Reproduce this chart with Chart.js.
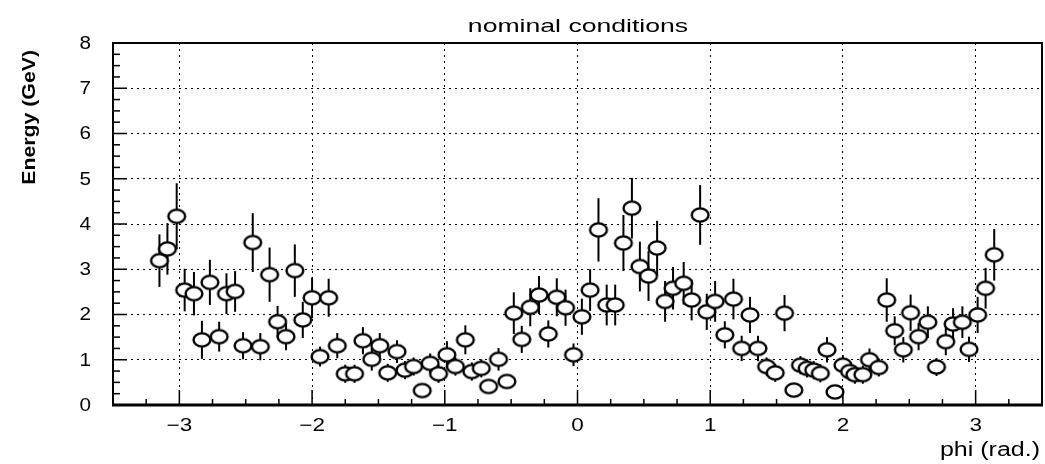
<!DOCTYPE html>
<html>
<head>
<meta charset="utf-8">
<title>nominal conditions</title>
<script src="https://cdn.jsdelivr.net/npm/chart.js@4/dist/chart.umd.min.js"></script>
<style>
  html, body { margin: 0; padding: 0; background: #fff; }
  canvas { display: block; }
</style>
</head>
<body>
<canvas id="energy-chart" width="1045" height="464"></canvas>
<script>
// values
const phi = [
  -3.15, -3.09, -3.02, -2.96, -2.89, -2.83, -2.77, -2.70, -2.645, -2.58,
  -2.52, -2.447, -2.39, -2.32, -2.26, -2.196, -2.13, -2.07, -2.0, -1.94,
  -1.875, -1.81, -1.75, -1.68, -1.617, -1.55, -1.49, -1.43, -1.36, -1.30,
  -1.235, -1.17, -1.11, -1.047, -0.984, -0.92, -0.845, -0.796, -0.725, -0.67,
  -0.595, -0.532, -0.48, -0.42, -0.356, -0.29, -0.22, -0.156, -0.09, -0.03,
  0.033, 0.095, 0.158, 0.22, 0.284, 0.346, 0.41, 0.47, 0.535, 0.60,
  0.66, 0.72, 0.80, 0.86, 0.924, 0.974, 1.037, 1.11, 1.175, 1.237,
  1.30, 1.36, 1.425, 1.49, 1.56, 1.63, 1.68, 1.73, 1.78, 1.83,
  1.88, 1.94, 2.0, 2.05, 2.09, 2.15, 2.20, 2.27, 2.33, 2.39,
  2.455, 2.51, 2.57, 2.64, 2.705, 2.775, 2.83, 2.90, 2.95, 3.015,
  3.075, 3.14
];
const energy = [
  3.19, 3.45, 4.17, 2.54, 2.46, 1.44, 2.71, 1.51, 2.46, 2.51,
  1.31, 3.59, 1.29, 2.88, 1.84, 1.51, 2.97, 1.88, 2.37, 1.07,
  2.37, 1.31, 0.69, 0.69, 1.42, 1.01, 1.31, 0.71, 1.18, 0.77,
  0.85, 0.32, 0.92, 0.69, 1.11, 0.85, 1.44, 0.74, 0.81, 0.41,
  1.01, 0.52, 2.03, 1.45, 2.16, 2.43, 1.57, 2.38, 2.15, 1.11,
  1.95, 2.54, 3.87, 2.21, 2.21, 3.58, 4.35, 3.06, 2.85, 3.47,
  2.29, 2.58, 2.69, 2.32, 4.20, 2.06, 2.29, 1.55, 2.34, 1.25,
  1.99, 1.25, 0.85, 0.71, 2.03, 0.33, 0.88, 0.81, 0.77, 0.70,
  1.22, 0.29, 0.88, 0.74, 0.67, 0.67, 1.00, 0.83, 2.32, 1.64,
  1.22, 2.04, 1.51, 1.83, 0.84, 1.40, 1.79, 1.83, 1.23, 1.99,
  2.58, 3.32
];
const energyErr = [
  0.58, 0.57, 0.73, 0.47, 0.48, 0.42, 0.50, 0.33, 0.45, 0.45,
  0.30, 0.65, 0.30, 0.60, 0.35, 0.30, 0.58, 0.40, 0.45, 0.22,
  0.42, 0.28, 0.20, 0.20, 0.30, 0.25, 0.28, 0.20, 0.25, 0.20,
  0.20, 0.12, 0.22, 0.20, 0.30, 0.20, 0.32, 0.20, 0.20, 0.12,
  0.25, 0.15, 0.46, 0.30, 0.42, 0.42, 0.30, 0.42, 0.40, 0.25,
  0.40, 0.46, 0.70, 0.45, 0.45, 0.62, 0.67, 0.55, 0.55, 0.60,
  0.45, 0.47, 0.47, 0.45, 0.66, 0.40, 0.45, 0.30, 0.45, 0.28,
  0.40, 0.28, 0.20, 0.20, 0.40, 0.12, 0.20, 0.20, 0.20, 0.20,
  0.28, 0.12, 0.22, 0.20, 0.20, 0.20, 0.25, 0.20, 0.48, 0.32,
  0.28, 0.40, 0.30, 0.35, 0.20, 0.30, 0.35, 0.35, 0.28, 0.40,
  0.45, 0.57
];
const xTicks = [-3, -2, -1, 0, 1, 2, 3];
const xTickLabels = ["\u22123", "\u22122", "\u22121", "0", "1", "2", "3"];
const yTicks = [0, 1, 2, 3, 4, 5, 6, 7, 8];
const yTickLabels = ["0", "1", "2", "3", "4", "5", "6", "7", "8"];

const FONT = "'Liberation Sans', Arial, sans-serif";

// open ellipse marker
function makeMarker() {
    const c = document.createElement("canvas");
    c.width = 22;
    c.height = 18;
    const g = c.getContext("2d");
    g.beginPath();
    g.ellipse(11, 9, 8.4, 6.6, 0, 0, Math.PI * 2);
    g.fillStyle = "#fff";
    g.fill();
    g.lineWidth = 2.4;
    g.strokeStyle = "#000";
    g.stroke();
    return c;
}

function wideText(ctx, txt, x, y, align, sx) {
    ctx.save();
    ctx.translate(x, y);
    ctx.scale(sx, 1);
    ctx.textAlign = align;
    ctx.fillText(txt, 0, 0);
    ctx.restore();
}

const errorBars = {
    id: "errorBars",
    beforeDatasetsDraw(chart) {
        const ctx = chart.ctx;
        const xs = chart.scales.x, ys = chart.scales.y;
        ctx.save();
        ctx.strokeStyle = "#000";
        ctx.lineWidth = 2;
        for (let i = 0; i < phi.length; i++) {
            const px = xs.getPixelForValue(phi[i]);
            ctx.beginPath();
            ctx.moveTo(px, ys.getPixelForValue(energy[i] - energyErr[i]));
            ctx.lineTo(px, ys.getPixelForValue(energy[i] + energyErr[i]));
            ctx.stroke();
        }
        ctx.restore();
    }
};

const frame = {
    id: "frame",
    afterDraw(chart) {
        const ctx = chart.ctx;
        const a = chart.chartArea;
        const xs = chart.scales.x, ys = chart.scales.y;
        ctx.save();
        ctx.strokeStyle = "#000";

        // inward ticks
        ctx.lineWidth = 1.5;
        for (let v = -3.5; v <= 3.5; v += 0.25) {
            const px = xs.getPixelForValue(v);
            const len = Number.isInteger(v) ? 15 : 6;
            ctx.beginPath();
            ctx.moveTo(px, a.bottom);
            ctx.lineTo(px, a.bottom - len);
            ctx.stroke();
        }
        for (let v = 0; v <= 8; v += 0.25) {
            const py = ys.getPixelForValue(v);
            const len = Number.isInteger(v) ? 14 : 7;
            ctx.beginPath();
            ctx.moveTo(a.left, py);
            ctx.lineTo(a.left + len, py);
            ctx.stroke();
        }

        // box
        ctx.lineWidth = 2;
        ctx.strokeRect(a.left, a.top, a.right - a.left, a.bottom - a.top);
        ctx.lineWidth = 3;
        ctx.beginPath();
        ctx.moveTo(a.left - 1, a.bottom);
        ctx.lineTo(a.right + 1, a.bottom);
        ctx.stroke();

        // texts
        ctx.fillStyle = "#000";
        ctx.textBaseline = "alphabetic";
        ctx.font = "18px " + FONT;
        xTicks.forEach((v, i) => {
            wideText(ctx, xTickLabels[i], xs.getPixelForValue(v), a.bottom + 26, "center", 1.25);
        });
        ctx.textBaseline = "middle";
        yTicks.forEach((v, i) => {
            wideText(ctx, yTickLabels[i], 91, ys.getPixelForValue(v) + 1, "right", 1.15);
        });

        ctx.textBaseline = "alphabetic";
        ctx.font = "19px " + FONT;
        wideText(ctx, "nominal conditions", 578, 32, "center", 1.4);

        ctx.font = "20px " + FONT;
        wideText(ctx, "phi (rad.)", 1040, 456, "right", 1.25);

        ctx.save();
        ctx.translate(35, 50);
        ctx.rotate(-Math.PI / 2);
        ctx.scale(1.12, 1);
        ctx.font = "bold 19px " + FONT;
        ctx.textAlign = "right";
        ctx.fillText("Energy (GeV)", 0, 0);
        ctx.restore();

        ctx.restore();
    }
};

const points = phi.map((p, i) => ({ x: p, y: energy[i] }));

new Chart(document.getElementById("energy-chart"), {
    type: "scatter",
    data: {
        datasets: [{
            label: "nominal conditions",
            data: points,
            pointStyle: makeMarker(),
            pointRadius: 8,
            showLine: false
        }]
    },
    options: {
        responsive: false,
        animation: false,
        events: [],
        layout: { autoPadding: false, padding: { top: 43, right: 3, left: 0, bottom: 0 } },
        plugins: {
            legend: { display: false },
            tooltip: { enabled: false },
            title: { display: false }
        },
        scales: {
            x: {
                type: "linear",
                min: -3.5,
                max: 3.5,
                afterBuildTicks: s => { s.ticks = xTicks.map(v => ({ value: v })); },
                afterFit: s => { s.height = 59; },
                ticks: { display: false },
                grid: { color: "#000", lineWidth: 1, drawTicks: false },
                border: { display: false, dash: [2, 4] }
            },
            y: {
                min: 0,
                max: 8,
                afterBuildTicks: s => { s.ticks = yTicks.slice(1, -1).map(v => ({ value: v })); },
                afterFit: s => { s.width = 113; },
                ticks: { display: false },
                grid: { color: "#000", lineWidth: 1, drawTicks: false },
                border: { display: false, dash: [2, 4] }
            }
        }
    },
    plugins: [errorBars, frame]
});
</script>
</body>
</html>
